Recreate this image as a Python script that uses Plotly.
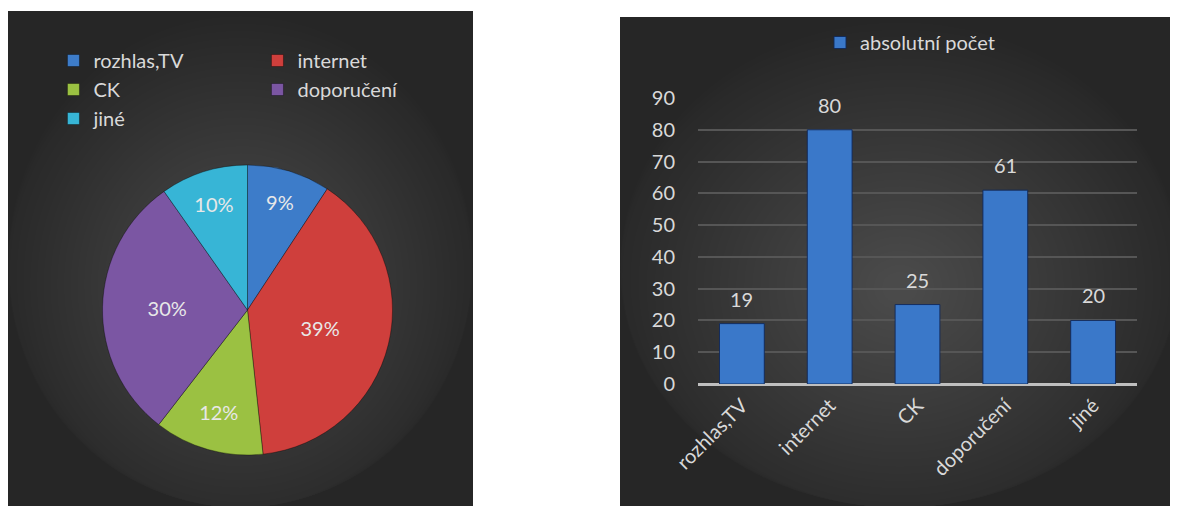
import plotly.graph_objects as go

categories = ["rozhlas,TV", "internet", "CK", "doporučení", "jiné"]
counts = [19, 80, 25, 61, 20]
series_name = "absolutní počet"
y_ticks = [0, 10, 20, 30, 40, 50, 60, 70, 80, 90]
slice_colors = ["#3D7CC9", "#CF3F3C", "#9BC142", "#7B56A3", "#37B5D6"]

# the page body has an 8px margin: figure occupies window pixels 8..1178 x 8..506
OFF = 8
W, H = 1178 - OFF, 506 - OFF
ML = 46
PW = W - ML


def px_x(p):
    return (p - OFF - ML) / PW


def px_y(p):
    return 1 - (p - OFF) / H


FONT = "Lato"
TXT = "#d9d9d9"

fig = go.Figure()

fig.add_trace(go.Pie(
    labels=categories,
    values=counts,
    sort=False,
    direction="clockwise",
    rotation=0,
    marker=dict(colors=slice_colors, line=dict(color="rgba(0,0,0,0.35)", width=1)),
    texttemplate="%{percent:.0%}",
    textposition="inside",
    insidetextorientation="horizontal",
    insidetextfont=dict(family=FONT, size=20, color="#e8e8e8"),
    domain=dict(x=[px_x(102), px_x(393)], y=[px_y(455), px_y(165)]),
    legend="legend",
    hoverinfo="skip",
))

fig.add_trace(go.Bar(
    x=categories,
    y=counts,
    name=series_name,
    marker=dict(color="#3A78C9", line=dict(color="rgba(15,40,90,0.9)", width=1)),
    showlegend=True,
    legend="legend2",
    hoverinfo="skip",
))

for c, v in zip(categories, counts):
    fig.add_annotation(x=c, y=v, xref="x", yref="y", text=str(v), showarrow=False,
                       yanchor="middle", yshift=25,
                       font=dict(family=FONT, size=20, color=TXT))

# panel backgrounds with radial-ish gradient
shapes = []
panels = [(8, 11, 473, 508), (620, 17, 1180, 508)]
for (x0, y0, x1, y1) in panels:
    shapes.append(dict(type="rect", xref="paper", yref="paper", layer="below",
                       x0=px_x(x0), x1=px_x(x1), y0=px_y(y1), y1=px_y(y0),
                       fillcolor="#262626", line=dict(width=0)))
    cx, cy = (x0 + x1) / 2, (y0 + y1) / 2 + 25
    hw, hh = (x1 - x0) / 2, (y1 - y0) / 2
    n = 36
    for i in range(n):
        s = 1.08 - i * 0.029
        shapes.append(dict(type="circle", xref="paper", yref="paper", layer="below",
                           x0=px_x(max(x0, cx - hw * s)), x1=px_x(min(x1, cx + hw * s)),
                           y0=px_y(min(y1, cy + hh * s)), y1=px_y(max(y0, cy - hh * s)),
                           fillcolor="rgba(255,255,255,0.008)", line=dict(width=0)))

fig.update_layout(
    width=W, height=H,
    margin=dict(l=ML, r=0, t=0, b=0, autoexpand=False),
    paper_bgcolor="white",
    plot_bgcolor="rgba(0,0,0,0)",
    font=dict(family=FONT, size=20, color=TXT),
    shapes=shapes,
    bargap=0.49,
    xaxis=dict(domain=[px_x(698), px_x(1137)], tickangle=-45, showgrid=False,
               ticks="", ticklabelstandoff=5,
               tickfont=dict(family=FONT, size=20, color=TXT),
               showline=False, zeroline=False),
    yaxis=dict(domain=[px_y(384), px_y(98)], range=[0, 90], tickvals=y_ticks,
               showgrid=True, gridcolor="#565656", gridwidth=1.5,
               zeroline=True, zerolinecolor="#bfbfbf", zerolinewidth=3,
               ticks="", ticklabelstandoff=22,
               tickfont=dict(family=FONT, size=20, color=TXT)),
    legend=dict(orientation="h", x=-0.0005, xanchor="left", y=px_y(41), yanchor="top",
                entrywidth=159, entrywidthmode="pixels",
                bgcolor="rgba(0,0,0,0)", font=dict(family=FONT, size=20, color=TXT)),
    legend2=dict(orientation="h", x=px_x(820), xanchor="left", y=px_y(23), yanchor="top",
                 bgcolor="rgba(0,0,0,0)", font=dict(family=FONT, size=20, color=TXT)),
)

fig.write_html("out.html")
